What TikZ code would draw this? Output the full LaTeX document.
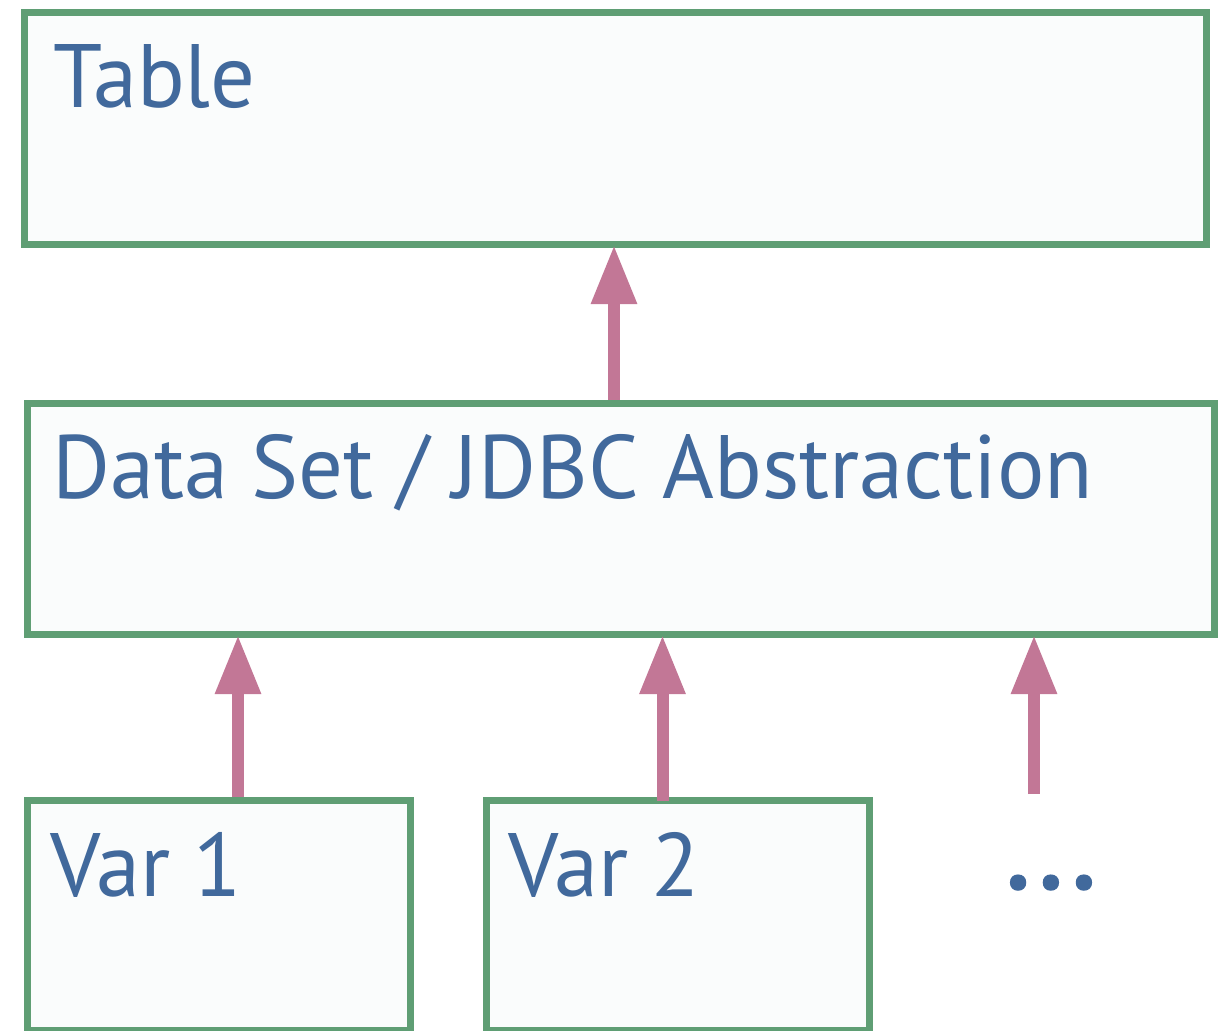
\documentclass[tikz,border=0pt]{standalone}
\usepackage{fontspec}
\setmainfont{PT Sans}[FakeStretch=0.985]
\newfontfamily\dotsfont{PT Sans}[FakeBold=2.2]
\usetikzlibrary{arrows.meta}
\definecolor{boxgreen}{HTML}{5F9E74}
\definecolor{boxfill}{HTML}{FAFCFC}
\definecolor{arrowpink}{HTML}{C27796}
\definecolor{textblue}{HTML}{41699C}
\tikzset{
  box/.style={draw=boxgreen, fill=boxfill, line width=7pt, rectangle, inner sep=0pt, outer sep=3.5pt},
  lbl/.style={anchor=base west, inner sep=0pt, text=textblue, font=\fontsize{90}{90}\selectfont},
  arr/.style={draw=arrowpink, line width=12pt, -{Triangle[width=43pt,length=59pt]}, shorten >=-2.5pt}
}
\begin{document}
\begin{tikzpicture}[x=1pt,y=-1pt]
\useasboundingbox (0,0) rectangle (1230,1030);
% boxes
\node[box, minimum width=1182pt, minimum height=231pt] (table) at (615.5,128.5) {};
\node[box, minimum width=1186.5pt, minimum height=231pt] (ds) at (620.75,518.5) {};
\node[box, minimum width=383pt, minimum height=230pt] (v1) at (219,915.5) {};
\node[box, minimum width=383pt, minimum height=230pt] (v2) at (677.5,915.5) {};
% labels
\node[lbl] (tTable) at (53,108) {Table};
\node[lbl] (tDS) at (52,498) {Data Set / JDBC Abstraction};
\node[lbl] (tV1) at (50,896) {Var 1};
\node[lbl] (tV2) at (508,896) {Var 2};
\node[anchor=base, text=textblue, inner sep=0pt, font=\dotsfont\fontsize{118}{118}\selectfont] (dots) at (1051,888) {...};
% arrow columns
\coordinate (c0) at (614,0);
\coordinate (c1) at (238,0);
\coordinate (c2) at (662.5,0);
\coordinate (c3) at (1034,794);
\draw[arr] (c0 |- ds.north) -- (c0 |- table.south);
\draw[arr] (c1 |- v1.north) -- (c1 |- ds.south);
\draw[arr] ([yshift=-4pt]c2 |- v2.north) -- (c2 |- ds.south);
\draw[arr] (c3) -- (c3 |- ds.south);
\end{tikzpicture}
\end{document}
